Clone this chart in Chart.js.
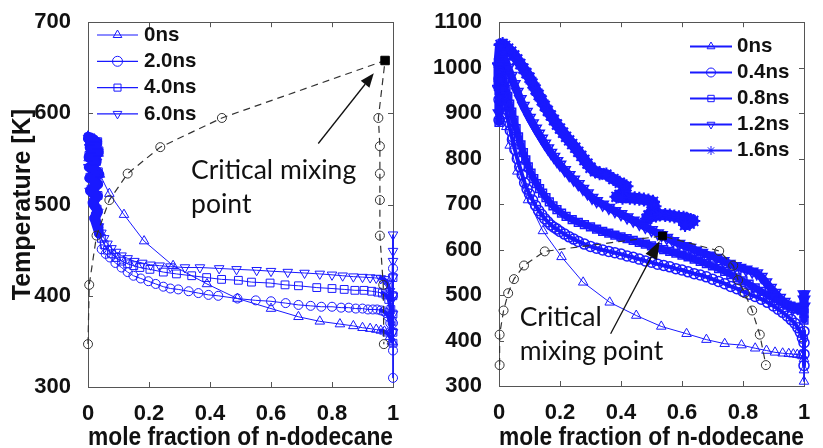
<!DOCTYPE html>
<html>
<head>
<meta charset="utf-8">
<script src="https://cdn.jsdelivr.net/npm/chart.js@4.4.0/dist/chart.umd.min.js"></script>
<style>
  html, body { margin: 0; padding: 0; background: #fff; }
  #wrap { position: relative; width: 823px; height: 448px; overflow: hidden; }
  #wrap canvas { position: absolute; top: 0; }
  #left { left: 0; }
  #right { left: 420px; }
</style>
</head>
<body>
<div id="wrap">
  <canvas id="left" width="420" height="448"></canvas>
  <canvas id="right" width="403" height="448"></canvas>
</div>
<script>
// Colores y fuentes
const BLUE = 'rgb(25, 25, 255)';
const INK = '#111';
const FAM = "'Liberation Sans', Arial, sans-serif";

// Ejes
const xTickVals = [0, 0.2, 0.4, 0.6, 0.8, 1];
const xTickText = ['0', '0.2', '0.4', '0.6', '0.8', '1'];
const yTickValsL = [300, 400, 500, 600, 700];
const yTickValsR = [300, 400, 500, 600, 700, 800, 900, 1000, 1100];

const labelsL = ['0ns', '2.0ns', '4.0ns', '6.0ns'];
const labelsR = ['0ns', '0.4ns', '0.8ns', '1.2ns', '1.6ns'];

// --- Panel izquierdo ---
const xL0 = [0, 0.02, 0.005, 0.03, 0.01, 0.035, 0.002, 0.025, 0.015, 0.039, 0.07, 0.118, 0.184, 0.279, 0.39, 0.49, 0.6, 0.69, 0.76, 0.826, 0.87, 0.9, 0.925, 0.945, 0.96, 0.972, 0.982, 0.99, 0.996, 1];
const tL0 = [575, 572, 568, 564, 560, 556, 551, 546, 540, 533, 512, 489, 460, 433, 413, 397, 386, 377, 372, 369, 367, 365, 364, 363, 362, 361, 359, 355, 350, 349];

const xL2 = [0, 0.03, 0.006, 0.035, 0.002, 0.026, 0.012, 0.034, 0.004, 0.03, 0.008, 0.032, 0.015, 0.03, 0.02, 0.036, 0.045, 0.058, 0.072, 0.09, 0.11, 0.13, 0.149, 0.173, 0.198, 0.222, 0.247, 0.27, 0.296, 0.33, 0.362, 0.395, 0.427, 0.49, 0.55, 0.6, 0.648, 0.69, 0.73, 0.765, 0.8, 0.83, 0.855, 0.878, 0.9, 0.918, 0.934, 0.948, 0.96, 0.97, 0.978, 0.985, 0.991, 0.996, 1, 1, 1, 1, 1];
const tL2 = [572, 567, 562, 557, 552, 547, 541, 535, 529, 523, 516, 509, 502, 494, 485, 468, 451, 446, 442, 436, 431, 426, 422, 419, 416, 413, 410, 408, 407, 405, 403, 401, 400, 397, 395, 394, 392, 390, 389, 388, 388, 387, 387, 386, 386, 385, 385, 385, 384, 383, 381, 377, 370, 360, 430, 400, 370, 340, 310];

const xL4 = [0.002, 0.032, 0.008, 0.036, 0.003, 0.028, 0.014, 0.034, 0.006, 0.03, 0.01, 0.033, 0.018, 0.03, 0.024, 0.036, 0.044, 0.053, 0.064, 0.077, 0.092, 0.11, 0.13, 0.15, 0.17, 0.203, 0.247, 0.29, 0.34, 0.389, 0.438, 0.493, 0.536, 0.597, 0.646, 0.69, 0.75, 0.8, 0.84, 0.875, 0.905, 0.93, 0.95, 0.965, 0.977, 0.986, 0.993, 0.997, 1, 1, 1, 1, 1];
const tL4 = [574, 569, 564, 559, 554, 548, 542, 536, 530, 524, 517, 510, 503, 495, 487, 471, 463, 456, 450, 446, 442, 438, 435, 433, 431, 429, 426, 424, 422, 420, 418, 417, 415, 414, 412, 411, 409, 408, 407, 406, 406, 405, 404, 403, 401, 396, 385, 372, 420, 400, 380, 360, 348];

const xL6 = [0, 0.028, 0.004, 0.034, 0.01, 0.03, 0.001, 0.025, 0.012, 0.035, 0.005, 0.028, 0.016, 0.034, 0.022, 0.036, 0.044, 0.053, 0.064, 0.077, 0.092, 0.11, 0.13, 0.152, 0.178, 0.205, 0.235, 0.27, 0.318, 0.367, 0.43, 0.487, 0.553, 0.6, 0.655, 0.71, 0.76, 0.8, 0.835, 0.87, 0.9, 0.925, 0.945, 0.96, 0.972, 0.982, 0.99, 0.995, 1, 1, 1, 1, 1, 1, 1];
const tL6 = [573, 568, 563, 558, 553, 547, 541, 535, 529, 522, 515, 508, 500, 492, 484, 476, 469, 463, 457, 452, 448, 444, 441, 438, 436, 434, 433, 432, 431, 431, 430, 429, 428, 427, 426, 425, 424, 423, 422, 421, 420.5, 420, 419.5, 419, 418, 414, 405, 395, 467, 449, 438, 420, 400, 380, 360];

// curva de mezcla crítica (izquierda)
const critXL = [0, 0.004, 0.028, 0.07, 0.13, 0.237, 0.439, 0.974, 0.952, 0.957, 0.957, 0.957, 0.957, 0.968, 0.97];
const critTL = [347, 412, 466, 505, 534, 563, 595, 658, 595, 564, 534, 505, 466, 412, 347];

// --- Panel derecho ---
const xR0 = [0, 0.003, 0.006, 0.01, 0.015, 0.024, 0.035, 0.06, 0.095, 0.144, 0.205, 0.276, 0.363, 0.45, 0.532, 0.615, 0.68, 0.74, 0.795, 0.84, 0.877, 0.905, 0.93, 0.95, 0.965, 0.978, 0.988, 0.995, 1, 1, 1];
const tR0 = [965, 945, 925, 905, 888, 870, 829, 772, 709, 641, 584, 528, 484, 455, 431, 415, 402, 393, 390, 383, 378, 374, 372, 371, 370, 369, 368, 366, 360, 335, 310];

const xR04 = [0, 0, 0, 0.003, 0.006, 0.01, 0.014, 0.019, 0.025, 0.031, 0.037, 0.044, 0.052, 0.06, 0.068, 0.076, 0.084, 0.092, 0.1, 0.11, 0.12, 0.13, 0.14, 0.15, 0.16, 0.17, 0.18, 0.19, 0.2, 0.215, 0.23, 0.245, 0.26, 0.28, 0.3, 0.32, 0.34, 0.36, 0.38, 0.4, 0.42, 0.44, 0.46, 0.48, 0.5, 0.52, 0.54, 0.56, 0.58, 0.6, 0.62, 0.64, 0.66, 0.68, 0.7, 0.72, 0.74, 0.76, 0.78, 0.8, 0.82, 0.84, 0.86, 0.88, 0.9, 0.915, 0.93, 0.945, 0.958, 0.97, 0.98, 0.988, 0.995, 1, 1, 1, 1];
const tR04 = [885, 930, 975, 990, 975, 955, 935, 921, 900, 880, 862, 842, 820, 800, 782, 764, 747, 733, 722, 709, 697, 686, 677, 668, 661, 654, 649, 645, 640, 634, 628, 623, 618, 612, 607, 603, 599, 596, 593, 590, 586, 583, 579, 575, 572, 568, 565, 562, 558, 555, 551, 547, 544, 540, 535, 530, 525, 519, 514, 508, 502, 497, 491, 484, 476, 469, 462, 454, 446, 438, 428, 418, 405, 420, 395, 370, 345];

const xR08 = [0, 0, 0, 0, 0.004, 0.008, 0.013, 0.018, 0.023, 0.029, 0.035, 0.042, 0.049, 0.056, 0.064, 0.072, 0.08, 0.088, 0.096, 0.105, 0.114, 0.123, 0.133, 0.143, 0.154, 0.165, 0.177, 0.19, 0.205, 0.22, 0.24, 0.26, 0.28, 0.3, 0.32, 0.34, 0.36, 0.38, 0.4, 0.42, 0.44, 0.46, 0.48, 0.5, 0.52, 0.54, 0.56, 0.58, 0.6, 0.62, 0.64, 0.66, 0.68, 0.7, 0.72, 0.74, 0.76, 0.78, 0.8, 0.82, 0.84, 0.86, 0.88, 0.9, 0.915, 0.93, 0.945, 0.96, 0.972, 0.982, 0.99, 1, 1, 1, 1, 1];
const tR08 = [880, 915, 950, 985, 1005, 995, 982, 968, 953, 937, 920, 902, 884, 866, 848, 830, 813, 797, 782, 768, 756, 745, 734, 724, 714, 705, 696, 688, 680, 673, 666, 660, 655, 650, 645, 640, 636, 632, 628, 624, 620, 616, 612, 608, 604, 600, 596, 592, 588, 584, 579, 574, 569, 564, 558, 552, 545, 538, 531, 524, 516, 508, 500, 493, 487, 482, 478, 474, 471, 469, 467, 470, 500, 485, 460, 445];

const xR12 = [0, 0, 0, 0.005, 0.012, 0.02, 0.03, 0.04, 0.05, 0.06, 0.07, 0.08, 0.09, 0.1, 0.11, 0.12, 0.13, 0.14, 0.15, 0.16, 0.17, 0.18, 0.19, 0.2, 0.215, 0.23, 0.245, 0.26, 0.275, 0.29, 0.305, 0.32, 0.34, 0.36, 0.38, 0.4, 0.42, 0.44, 0.46, 0.48, 0.5, 0.52, 0.533, 0.55, 0.57, 0.59, 0.61, 0.626, 0.645, 0.665, 0.69, 0.713, 0.735, 0.755, 0.775, 0.79, 0.81, 0.83, 0.845, 0.86, 0.875, 0.89, 0.905, 0.92, 0.935, 0.95, 0.965, 0.98, 0.99, 1, 1, 1];
const tR12 = [900, 950, 1000, 1045, 1032, 1018, 1000, 982, 964, 947, 931, 916, 903, 890, 878, 866, 855, 844, 833, 823, 813, 804, 795, 787, 775, 764, 754, 744, 734, 724, 714, 707, 699, 692, 685, 678, 671, 664, 657, 650, 643, 636, 632, 626, 619, 613, 608, 604, 598, 593, 587, 582, 575, 569, 564, 560, 556, 552, 548, 540, 528, 516, 505, 494, 485, 477, 473, 472, 472, 475, 490, 502];

const xR16 = [0, 0, 0.005, 0.012, 0.02, 0.03, 0.04, 0.05, 0.06, 0.07, 0.08, 0.09, 0.1, 0.11, 0.12, 0.13, 0.14, 0.15, 0.16, 0.17, 0.18, 0.19, 0.2, 0.21, 0.22, 0.23, 0.24, 0.25, 0.26, 0.27, 0.28, 0.29, 0.3, 0.315, 0.33, 0.352, 0.375, 0.396, 0.418, 0.41, 0.395, 0.385, 0.405, 0.429, 0.445, 0.46, 0.475, 0.49, 0.505, 0.51, 0.5, 0.49, 0.484, 0.5, 0.515, 0.527, 0.545, 0.56, 0.575, 0.59, 0.605, 0.615, 0.628, 0.637, 0.625, 0.61];
const tR16 = [960, 1010, 1050, 1052, 1048, 1042, 1035, 1027, 1018, 1008, 998, 988, 978, 965, 952, 940, 928, 916, 905, 895, 885, 875, 866, 857, 848, 840, 832, 824, 815, 806, 797, 789, 780, 772, 768, 765, 755, 747, 739, 728, 720, 716, 714, 714, 713, 712, 710, 708, 705, 695, 684, 675, 668, 672, 675, 677, 676, 675, 673, 671, 670, 668, 665, 663, 657, 654];

// curva de mezcla crítica (derecha)
const critXR = [0.002, 0.002, 0.015, 0.03, 0.049, 0.082, 0.15, 0.536, 0.722, 0.768, 0.784, 0.806, 0.83, 0.855, 0.875];
const critTR = [346, 413, 466, 504, 535, 565, 596, 630, 597, 565, 533, 504, 466, 413, 346];

// Flechas de anotación (coordenadas de datos: desde, hasta)
const arrowL = [[0.755, 567], [0.937, 644]];
const arrowR = [[0.366, 415], [0.527, 619]];

const pts = (xs, ys) => xs.map((x, i) => ({ x: x, y: ys[i] }));

function serie(label, xs, ys, shape, extra) {
    return Object.assign({
        label: label,
        data: pts(xs, ys),
        showLine: true,
        borderColor: BLUE,
        borderWidth: 1,
        borderJoinStyle: 'round',
        borderCapStyle: 'round',
        pointStyle: shape,
        pointRotation: 0,
        pointRadius: 5,
        pointBorderColor: BLUE,
        pointBorderWidth: 1,
        pointBackgroundColor: 'rgba(0,0,0,0)',
        clip: false
    }, extra || {});
}

// Los extremos x≈0 y x≈1 del panel izquierdo están saturados de marcadores:
// se engruesa la línea en esos tramos para que se vean macizos.
function denseEnds(xs, wHead, wTail) {
    const head = xs.findIndex(v => v >= 0.04);
    const tail = xs.findIndex(v => v >= 0.96);
    return {
        segment: {
            borderWidth: c => {
                if (c.p1DataIndex < head) return wHead;
                if (c.p0DataIndex >= tail && xs[c.p1DataIndex] < 1) return wTail;
                return 1;
            }
        }
    };
}

// Punto crítico (cuadro negro) + curva discontinua con círculos
function critSets(xs, ys, sq) {
    const peak = ys.indexOf(Math.max(...ys));
    return [
        {
            label: '_cp', data: [{ x: xs[peak], y: ys[peak] }], showLine: false,
            pointStyle: 'rect', pointRadius: sq, pointBackgroundColor: '#000',
            pointBorderColor: '#000', pointBorderWidth: 1, clip: false
        },
        {
            label: '_cc', data: pts(xs, ys), showLine: true,
            borderColor: '#333', borderWidth: 1.2, borderDash: [7, 5],
            pointStyle: 'circle', pointRadius: c => (c.dataIndex === peak ? 0 : 4.5),
            pointBorderColor: '#333', pointBorderWidth: 1,
            pointBackgroundColor: 'rgba(0,0,0,0)', clip: false
        }
    ];
}

// Marco con marcas hacia dentro en los cuatro lados
const boxTicks = {
    id: 'boxTicks',
    beforeDatasetsDraw(chart) {
        const { ctx, chartArea: a, scales: { x, y } } = chart;
        ctx.save();
        ctx.strokeStyle = '#555';
        ctx.lineWidth = 1;
        ctx.strokeRect(Math.round(a.left) + 0.5, Math.round(a.top) + 0.5,
            Math.round(a.right - a.left), Math.round(a.bottom - a.top));
        ctx.beginPath();
        x.ticks.forEach(t => {
            const px = Math.round(x.getPixelForValue(t.value)) + 0.5;
            ctx.moveTo(px, a.bottom); ctx.lineTo(px, a.bottom - 5);
            ctx.moveTo(px, a.top); ctx.lineTo(px, a.top + 5);
        });
        y.ticks.forEach(t => {
            const py = Math.round(y.getPixelForValue(t.value)) + 0.5;
            ctx.moveTo(a.left, py); ctx.lineTo(a.left + 5, py);
            ctx.moveTo(a.right, py); ctx.lineTo(a.right - 5, py);
        });
        ctx.stroke();
        ctx.restore();
    }
};

// Leyenda dentro del área del gráfico
const boxLegend = {
    id: 'boxLegend',
    afterDatasetsDraw(chart, args, o) {
        const ctx = chart.ctx;
        ctx.save();
        o.labels.forEach((lab, i) => {
            const ds = chart.data.datasets.find(d => d.label === lab);
            const yy = o.top + i * o.step;
            ctx.strokeStyle = BLUE;
            ctx.lineWidth = o.lineWidth;
            ctx.setLineDash([]);
            ctx.beginPath();
            ctx.moveTo(o.x0, yy);
            ctx.lineTo(o.x1, yy);
            ctx.stroke();
            ctx.fillStyle = 'rgba(0,0,0,0)';
            ctx.lineWidth = 1;
            Chart.helpers.drawPoint(ctx, {
                pointStyle: ds.pointStyle, rotation: ds.pointRotation || 0,
                radius: o.radius, borderWidth: 1
            }, (o.x0 + o.x1) / 2, yy);
            ctx.fillStyle = INK;
            ctx.font = 'bold ' + o.size + 'px ' + FAM;
            ctx.textAlign = 'left';
            ctx.textBaseline = 'middle';
            ctx.fillText(lab, o.textX, yy);
        });
        ctx.restore();
    }
};

// Texto "Critical mixing point" y flecha
const note = {
    id: 'note',
    afterDatasetsDraw(chart, args, o) {
        const { ctx, scales: { x, y } } = chart;
        const x0 = x.getPixelForValue(o.from[0]), y0 = y.getPixelForValue(o.from[1]);
        const x1 = x.getPixelForValue(o.to[0]), y1 = y.getPixelForValue(o.to[1]);
        const ang = Math.atan2(y1 - y0, x1 - x0);
        const bx = x1 - o.head * Math.cos(ang), by = y1 - o.head * Math.sin(ang);
        const hx = o.half * Math.sin(ang), hy = o.half * Math.cos(ang);
        ctx.save();
        ctx.strokeStyle = INK;
        ctx.fillStyle = INK;
        ctx.lineWidth = 1.3;
        ctx.beginPath();
        ctx.moveTo(x0, y0);
        ctx.lineTo(bx, by);
        ctx.stroke();
        ctx.beginPath();
        ctx.moveTo(x1, y1);
        ctx.lineTo(bx + hx, by - hy);
        ctx.lineTo(bx - hx, by + hy);
        ctx.closePath();
        ctx.fill();
        ctx.font = o.size + 'px Lato, "Noto Sans", sans-serif';
        ctx.textAlign = 'left';
        ctx.textBaseline = 'alphabetic';
        const tx = x.getPixelForValue(o.at[0]), ty = y.getPixelForValue(o.at[1]);
        o.lines.forEach((t, i) => ctx.fillText(t, tx, ty + i * o.gap));
        ctx.restore();
    }
};

function axes(yVals, leftW, bottomH, yTitle) {
    const tickFont = { family: FAM, size: 22, weight: 'bold' };
    const titleFont = { family: FAM, size: 25, weight: 'bold', lineHeight: 1 };
    return {
        x: {
            type: 'linear', min: 0, max: 1,
            afterBuildTicks: s => { s.ticks = xTickVals.map(v => ({ value: v })); },
            afterFit: s => { s.height = bottomH; },
            grid: { display: false }, border: { display: false },
            ticks: { color: INK, font: tickFont, padding: 5.5, maxRotation: 0, autoSkip: false,
                callback: (v, i) => xTickText[i] },
            title: { display: true, text: 'mole fraction of n-dodecane', color: INK,
                font: titleFont, padding: { top: 0, bottom: -2.5 } }
        },
        y: {
            type: 'linear', min: yVals[0], max: yVals[yVals.length - 1],
            afterBuildTicks: s => { s.ticks = yVals.map(v => ({ value: v })); },
            afterFit: s => { s.width = leftW; },
            grid: { display: false }, border: { display: false },
            ticks: { color: INK, font: tickFont, padding: 9, callback: (v, i) => String(yVals[i]) },
            title: { display: !!yTitle, text: yTitle || '', color: INK,
                font: titleFont, padding: { top: 10.5, bottom: 0 } }
        }
    };
}

// --- Gráfico izquierdo ---
new Chart(document.getElementById('left'), {
    type: 'scatter',
    data: {
        datasets: [
            ...critSets(critXL, critTL, 6),
            serie(labelsL[0], xL0, tL0, 'triangle', Object.assign({ pointRadius: 5.5 }, denseEnds(xL0, 9, 4))),
            serie(labelsL[1], xL2, tL2, 'circle', Object.assign({ pointRadius: 4.5 }, denseEnds(xL2, 9, 4))),
            serie(labelsL[2], xL4, tL4, 'rect', Object.assign({ pointRadius: 5.5 }, denseEnds(xL4, 9, 4))),
            serie(labelsL[3], xL6, tL6, 'triangle', Object.assign({ pointRadius: 5.5, pointRotation: 180 }, denseEnds(xL6, 9, 4)))
        ]
    },
    options: {
        responsive: false, animation: false, events: [],
        layout: { padding: { top: 20, right: 27, left: 0, bottom: 0 } },
        scales: axes(yTickValsL, 88, 61, 'Temperature [K]'),
        plugins: {
            legend: { display: false }, tooltip: { enabled: false },
            boxLegend: { labels: labelsL, x0: 97, x1: 138, textX: 144, top: 35, step: 26.3,
                radius: 5, lineWidth: 1.2, size: 20.5 },
            note: { from: arrowL[0], to: arrowL[1], head: 14, half: 5.5,
                lines: ['Critical mixing', 'point'], at: [0.338, 528], gap: 34, size: 26.5 }
        }
    },
    plugins: [boxTicks, boxLegend, note]
});

// --- Gráfico derecho (bandas densas de marcadores) ---
new Chart(document.getElementById('right'), {
    type: 'scatter',
    data: {
        datasets: [
            ...critSets(critXR, critTR, 5.5),
            serie(labelsR[0], xR0, tR0, 'triangle', { pointRadius: 5.5 }),
            serie(labelsR[1], xR04, tR04, 'circle', { pointRadius: 5, borderWidth: 4, pointBorderWidth: 1.5 }),
            serie(labelsR[2], xR08, tR08, 'rect', { pointRadius: 5.5, borderWidth: 7, pointBorderWidth: 1.5 }),
            serie(labelsR[3], xR12, tR12, 'triangle', { pointRadius: 6.5, pointRotation: 180, borderWidth: 8, pointBorderWidth: 1.5 }),
            serie(labelsR[4], xR16, tR16, 'star', { pointRadius: 7, borderWidth: 11, pointBorderWidth: 2 })
        ]
    },
    options: {
        responsive: false, animation: false, events: [],
        layout: { padding: { top: 20, right: 19, left: 0, bottom: 0 } },
        scales: axes(yTickValsR, 79, 62, ''),
        plugins: {
            legend: { display: false }, tooltip: { enabled: false },
            boxLegend: { labels: labelsR, x0: 270, x1: 312, textX: 317, top: 46.5, step: 26,
                radius: 4.5, lineWidth: 1.8, size: 20.5 },
            note: { from: arrowR[0], to: arrowR[1], head: 18, half: 6.5,
                lines: ['Critical', 'mixing point'], at: [0.068, 433], gap: 34, size: 26.5 }
        }
    },
    plugins: [boxTicks, boxLegend, note]
});
</script>
</body>
</html>
